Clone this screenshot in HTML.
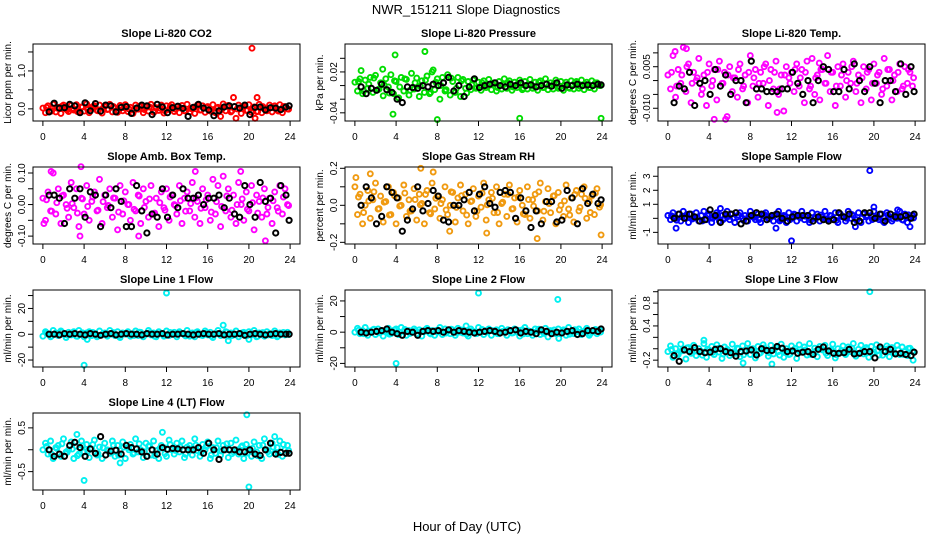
<!DOCTYPE html>
<html><head><meta charset="utf-8"><style>
html,body{margin:0;padding:0;background:#fff;}
svg{display:block;font-family:"Liberation Sans",sans-serif;}
</style></head><body>
<svg id="chart" width="936" height="540" viewBox="0 0 936 540">
<text x="466" y="14" text-anchor="middle" font-size="13">NWR_151211  Slope Diagnostics</text>
<text x="467" y="531" text-anchor="middle" font-size="13">Hour of Day (UTC)</text>
</svg>
<script>
const hoursC=[0,0.25,0.5,0.75,1,1.25,1.5,1.75,2,2.25,2.5,2.75,3,3.25,3.5,3.75,4,4.25,4.5,4.75,5,5.25,5.5,5.75,6,6.25,6.5,6.75,7,7.25,7.5,7.75,8,8.25,8.5,8.75,9,9.25,9.5,9.75,10,10.25,10.5,10.75,11,11.25,11.5,11.75,12,12.25,12.5,12.75,13,13.25,13.5,13.75,14,14.25,14.5,14.75,15,15.25,15.5,15.75,16,16.25,16.5,16.75,17,17.25,17.5,17.75,18,18.25,18.5,18.75,19,19.25,19.5,19.75,20,20.25,20.5,20.75,21,21.25,21.5,21.75,22,22.25,22.5,22.75,23,23.25,23.5,23.75];
const hoursC2=[0.35,0.85,1.35,1.85,2.35,2.85,3.35,3.85,4.35,4.85,5.35,5.85,6.35,6.85,7.35,7.85,8.35,8.85,9.35,9.85,10.35,10.85,11.35,11.85,12.35,12.85,13.35,13.85,14.35,14.85,15.35,15.85,16.35,16.85,17.35,17.85,18.35,18.85,19.35,19.85,20.35,20.85,21.35,21.85,22.35,22.85,23.35,23.85];
const hoursK=[0.6,1.1,1.6,2.1,2.6,3.1,3.6,4.1,4.6,5.1,5.6,6.1,6.6,7.1,7.6,8.1,8.6,9.1,9.6,10.1,10.6,11.1,11.6,12.1,12.6,13.1,13.6,14.1,14.6,15.1,15.6,16.1,16.6,17.1,17.6,18.1,18.6,19.1,19.6,20.1,20.6,21.1,21.6,22.1,22.6,23.1,23.6,23.9];
const xTicks=[0,4,8,12,16,20,24];

const co2C=[0.02,-0.1,0.08,-0.05,0.12,-0.08,0.04,-0.12,0.1,0.0,-0.07,0.09,-0.03,0.11,-0.09,0.05,-0.06,0.13,-0.1,0.03,0.08,-0.04,0.1,-0.11,0.06,-0.02,0.12,-0.08,0.02,-0.09,0.09,-0.05,0.11,-0.07,0.04,-0.12,0.1,-0.01,0.07,-0.1,0.05,-0.06,0.12,-0.09,0.03,-0.04,0.1,-0.11,0.08,-0.02,0.11,-0.07,0.05,-0.1,0.09,-0.05,0.12,-0.08,0.01,-0.12,0.1,-0.03,0.08,-0.09,0.06,-0.06,0.11,-0.1,0.04,-0.2,0.13,-0.05,0.09,-0.08,0.3,-0.25,0.1,-0.12,0.07,-0.04,0.11,-0.09,0.05,-0.07,0.12,-0.1,0.02,-0.05,0.1,-0.08,0.08,-0.03,0.11,-0.1,0.06,0.0];
const co2C2=[0.04,-0.06,0.02,0.07,-0.03,0.01,-0.07,0.05,-0.02,0.06,-0.05,0.02,-0.01,0.06,-0.06,0.03,0.0,-0.04,0.07,-0.02,0.05,-0.07,0.02,-0.05,0.06,-0.01,0.03,-0.06,0.01,0.06,-0.03,0.04,-0.06,0.02,-0.02,0.07,-0.05,0.0,0.05,-0.04,0.02,-0.07,0.06,-0.02,0.03,-0.06,0.06,-0.01];
const co2K=[-0.08,0.15,0.02,0.03,0.12,0.08,-0.1,0.16,-0.05,0.14,-0.06,0.1,0.08,-0.08,0.04,0.06,-0.12,0.02,0.1,0.08,-0.15,0.12,0.05,-0.1,0.03,0.07,0.01,-0.2,0.04,0.12,0.02,-0.03,-0.18,-0.05,0.05,0.08,0.06,0.02,0.1,-0.15,0.04,0.05,-0.03,0.03,0.02,-0.02,0.05,0.08];
const co2OutH=[20.3,20.8,20.6];
const co2OutV=[1.6,0.3,-0.25];

const presC=[0.005,-0.008,0.01,-0.012,0.008,-0.004,0.012,-0.01,0.015,-0.006,0.004,-0.015,0.01,-0.002,0.016,-0.012,0.006,-0.018,0.012,-0.008,0.009,-0.014,0.018,-0.005,0.011,-0.016,0.007,-0.01,0.014,-0.012,0.02,-0.006,0.01,-0.02,0.012,-0.008,0.016,-0.014,0.006,-0.01,0.012,-0.016,0.009,-0.004,0.006,-0.006,0.008,-0.004,0.005,-0.007,0.007,-0.003,0.009,-0.006,0.004,-0.008,0.006,-0.005,0.01,-0.004,0.007,-0.007,0.005,-0.003,0.008,-0.006,0.006,-0.005,0.009,-0.004,0.005,-0.007,0.007,-0.003,0.01,-0.006,0.004,-0.005,0.008,-0.004,0.006,-0.007,0.005,-0.003,0.007,-0.005,0.006,-0.004,0.008,-0.006,0.005,-0.003,0.007,-0.005,0.004,0.0];
const presC2=[0.006,-0.008,0.002,0.011,-0.005,0.001,-0.011,0.007,-0.002,0.01,-0.007,0.004,-0.001,0.008,-0.01,0.005,0.0,-0.006,0.011,-0.004,0.007,-0.011,0.001,-0.003,0.004,0.0,0.002,-0.003,0.001,0.004,-0.002,0.003,-0.004,0.002,-0.001,0.005,-0.003,0.0,0.003,-0.002,0.001,-0.004,0.004,-0.001,0.002,-0.003,0.004,0.0];
const presK=[-0.002,-0.012,-0.004,-0.007,0.002,-0.006,-0.01,-0.02,-0.025,-0.002,-0.003,-0.004,0.0,-0.002,0.002,0.0,0.004,0.012,-0.008,0.0,-0.016,-0.002,0.01,-0.003,0.0,0.002,0.004,0.0,-0.002,0.002,0.0,0.004,0.0,0.001,-0.002,0.0,0.002,-0.001,0.004,-0.004,0.001,0.0,0.002,0.0,0.001,0.0,0.002,0.001];
const presOutH=[3.9,6.8,3.7,8.0,16.0,23.9,0.6,2.7,7.6];
const presOutV=[0.045,0.05,-0.042,-0.05,-0.048,-0.048,0.022,0.024,0.023];

const tempC=[0.002,-0.003,0.009,-0.006,0.004,-0.001,0.012,-0.004,0.006,-0.008,0.003,0.0,0.008,-0.005,0.002,-0.009,0.006,-0.002,0.004,-0.007,0.007,-0.001,0.003,-0.013,0.005,-0.004,0.001,-0.006,0.006,-0.003,0.002,-0.008,0.009,-0.002,0.004,-0.006,0.003,-0.001,0.006,-0.009,0.004,-0.003,0.007,-0.005,0.002,-0.011,0.005,0.001,0.003,-0.004,0.006,-0.002,0.004,-0.008,0.007,-0.003,0.008,-0.005,0.002,-0.007,0.004,-0.001,0.009,-0.004,0.003,-0.009,0.005,-0.002,0.006,-0.006,0.003,-0.001,0.007,-0.004,0.002,-0.008,0.005,-0.003,0.004,-0.007,0.006,-0.001,0.003,-0.005,0.008,-0.002,0.004,-0.007,0.002,-0.004,0.006,-0.003,0.005,-0.001,0.003,-0.002];
const tempC2=[0.003,-0.002,0.002,0.005,-0.001,0.001,-0.003,0.003,0.0,0.004,-0.001,0.002,0.001,0.004,-0.002,0.003,0.001,-0.001,0.005,0.0,0.003,-0.003,0.002,-0.001,0.004,0.001,0.003,-0.002,0.001,0.004,-0.001,0.003,-0.002,0.002,0.0,0.005,-0.001,0.001,0.003,-0.001,0.002,-0.003,0.004,0.0,0.003,-0.002,0.004,0.001];
const tempK=[-0.008,-0.002,-0.003,0.003,-0.009,-0.001,0.0,-0.005,0.004,-0.002,0.002,-0.005,0.0,0.0,-0.008,0.007,-0.003,-0.003,-0.004,-0.004,-0.004,-0.003,-0.003,0.003,-0.001,-0.005,0.0,-0.008,0.0,0.005,0.004,-0.004,-0.004,0.004,-0.003,0.006,0.0,-0.004,0.005,-0.001,-0.008,0.0,0.0,-0.004,0.006,-0.005,0.005,-0.004];
const tempOutH=[0.7,4.5,5.6,10.6,14.7,1.8];
const tempOutV=[0.0105,-0.014,-0.014,-0.0115,0.0063,0.0115];

const ambC=[0.02,-0.05,0.04,-0.02,0.1,-0.03,0.05,-0.06,0.03,0.0,-0.04,0.07,-0.01,0.05,-0.07,0.02,-0.03,0.06,-0.05,0.01,0.04,-0.02,0.08,-0.06,0.03,-0.01,0.05,-0.04,0.02,-0.08,0.06,-0.03,0.04,0.0,-0.05,0.07,-0.02,0.03,-0.06,0.05,0.01,-0.04,0.06,-0.03,0.02,-0.07,0.04,-0.01,0.05,-0.05,0.03,0.0,-0.03,0.06,-0.06,0.02,0.04,-0.02,0.07,-0.04,0.01,-0.06,0.05,-0.01,0.03,-0.05,0.08,-0.03,0.06,-0.07,0.09,-0.02,0.05,-0.04,0.03,-0.06,0.07,0.0,-0.05,0.04,-0.02,0.06,-0.08,0.03,0.01,-0.04,0.05,-0.03,0.02,-0.06,0.04,-0.01,0.06,-0.03,0.05,0.0];
const ambC2=[0.015,-0.021,0.006,0.027,-0.012,0.003,-0.027,0.018,-0.006,0.024,-0.018,0.009,-0.003,0.021,-0.024,0.012,0.0,-0.015,0.027,-0.009,0.018,-0.027,0.006,-0.018,0.024,-0.003,0.012,-0.021,0.003,0.021,-0.012,0.015,-0.024,0.009,-0.006,0.027,-0.018,0.0,0.018,-0.015,0.006,-0.027,0.021,-0.009,0.012,-0.021,0.024,-0.003];
const ambK=[0.03,0.03,0.02,-0.06,0.05,0.02,0.05,-0.04,0.04,0.03,-0.07,0.03,-0.01,0.05,0.01,-0.07,-0.07,0.06,-0.02,-0.09,-0.03,-0.04,0.05,-0.04,0.03,-0.01,0.05,0.02,0.02,0.03,0.0,0.02,0.02,0.03,-0.01,0.02,-0.03,-0.04,0.06,0.0,-0.04,0.07,0.01,0.02,-0.09,0.06,0.03,-0.05];
const ambOutH=[0.8,3.7,3.6,9.3,21.6,19.2,14.8,0.1];
const ambOutV=[0.105,0.12,-0.1,-0.1,-0.115,0.105,0.105,-0.06];

const rhC=[0.1,-0.05,0.06,-0.1,0.0,0.08,-0.07,0.03,0.12,-0.02,0.05,-0.09,0.02,0.1,-0.05,0.07,-0.1,0.04,0.0,0.11,-0.06,0.03,-0.03,0.09,-0.08,0.06,0.01,-0.1,0.08,-0.04,0.12,-0.02,0.05,-0.07,0.03,0.1,-0.05,0.0,0.07,-0.09,0.04,0.11,-0.03,0.06,-0.1,0.02,0.09,-0.06,0.05,-0.01,0.12,-0.08,0.03,0.07,-0.04,0.1,-0.1,0.01,0.06,-0.06,0.11,-0.02,0.04,-0.09,0.08,0.0,-0.05,0.1,-0.07,0.03,0.06,-0.03,0.12,-0.08,0.02,0.09,-0.04,0.05,-0.1,0.07,0.0,-0.06,0.11,-0.02,0.04,-0.09,0.08,-0.03,0.06,0.1,-0.07,0.02,0.05,-0.05,0.09,-0.01];
const rhC2=[0.045,-0.039,0.024,0.073,-0.018,0.017,-0.053,0.052,-0.004,0.066,-0.032,0.031,0.003,0.059,-0.046,0.038,0.01,-0.025,0.073,-0.011,0.052,-0.053,0.024,-0.032,0.066,0.003,0.038,-0.039,0.017,0.059,-0.018,0.045,-0.046,0.031,-0.004,0.073,-0.032,0.01,0.052,-0.025,0.024,-0.053,0.059,-0.011,0.038,-0.039,0.066,0.003];
const rhK=[0.0,0.1,0.04,-0.1,-0.06,0.1,0.07,0.04,-0.14,-0.08,-0.02,0.1,-0.03,0.01,0.08,0.05,-0.08,-0.09,0.0,0.0,0.03,0.07,-0.03,0.06,0.1,0.01,-0.01,0.07,0.08,0.07,-0.07,0.04,-0.03,-0.12,-0.03,-0.1,0.02,0.02,-0.09,-0.08,0.08,0.04,-0.1,0.09,0.01,0.06,0.01,0.03];
const rhOutH=[6.4,1.5,17.7,9.2,23.9,0.1,7.6,12.8];
const rhOutV=[0.2,0.17,-0.18,-0.14,-0.16,0.15,0.18,-0.15];

const sfC=[0.2,-0.1,0.4,0.0,0.3,-0.2,0.5,0.1,-0.3,0.3,0.0,0.4,-0.2,0.2,0.5,-0.1,0.3,-0.3,0.1,0.4,-0.2,0.2,0.0,0.5,-0.1,0.3,-0.3,0.1,0.4,0.0,0.2,-0.2,0.5,0.1,-0.1,0.3,-0.3,0.2,0.4,0.0,0.1,-0.2,0.3,0.5,-0.1,0.2,-0.3,0.4,0.0,0.3,-0.2,0.1,0.5,-0.1,0.2,-0.3,0.4,0.0,0.3,-0.2,0.1,0.5,-0.1,0.2,0.0,0.4,-0.3,0.3,0.1,-0.2,0.5,0.0,0.2,-0.1,0.4,-0.3,0.3,0.1,-0.2,0.2,0.5,0.0,-0.1,0.3,-0.3,0.4,0.1,-0.2,0.2,0.0,0.5,-0.1,0.3,-0.3,0.1,0.2];
const sfC2=[0.18,-0.13,0.1,0.28,-0.05,0.08,-0.18,0.2,0.0,0.25,-0.1,0.13,0.03,0.23,-0.15,0.15,0.05,-0.08,0.28,-0.03,0.2,-0.18,0.1,-0.1,0.25,0.03,0.15,-0.13,0.08,0.23,-0.05,0.18,-0.15,0.13,0.0,0.28,-0.1,0.05,0.2,-0.08,0.1,-0.18,0.23,-0.03,0.15,-0.13,0.25,0.03];
const sfK=[0.0,0.3,0.0,0.3,0.1,-0.2,-0.1,0.6,0.2,-0.3,0.3,0.3,0.4,-0.4,-0.2,0.2,0.4,0.3,-0.1,0.2,0.3,0.0,-0.2,0.1,0.2,0.2,0.2,-0.2,0.1,-0.1,-0.2,-0.1,0.4,0.1,0.3,-0.3,-0.2,0.4,0.4,0.0,0.3,-0.2,0.3,0.1,0.1,0.2,0.0,0.3];
const sfOutH=[19.6,20.0,12.0,0.8,10.5,18.2,22.3,23.5,5.1];
const sfOutV=[3.4,0.8,-1.6,-0.7,-0.7,-0.6,0.6,-0.6,0.7];

const l1C=[-1.5,2,0,-2,3,1,-1,2.5,0,-2.5,1.5,-0.5,2,-1.5,3,0,-2,1,2,-1,0.5,-2,2.5,-0.5,1,-1.5,3,0,-1,2,-2.5,1,0,2,-1.5,0.5,2.5,-1,1.5,-2,0,3,-0.5,1,-2,2,0.5,-1.5,2.5,-1,0,1.5,-2,2,0.5,-0.5,3,-1.5,1,-2,2,0,-1,2.5,-0.5,1.5,-2.5,0.5,3,-1,0,2,-1.5,1,-0.5,2.5,-2,0,1.5,-1,2,-0.5,3,-2,1,0,-1.5,2,0.5,-1,2.5,-2,1,0,-0.5,1.5];
const l1C2=[0.9,-1.3,0.4,1.6,-0.7,0.2,-1.6,1.1,-0.4,1.4,-1.1,0.5,-0.2,1.3,-1.4,0.7,0,-0.9,1.6,-0.5,1.1,-1.6,0.4,-1.1,1.4,-0.2,0.7,-1.3,0.2,1.3,-0.7,0.9,-1.4,0.5,-0.4,1.6,-1.1,0,1.1,-0.9,0.4,-1.6,1.3,-0.5,0.7,-1.3,1.4,-0.2];
const l1K=[0,0,-0.5,0.5,0,0.5,0,-0.5,0.5,0,-0.8,0,0.5,-0.5,0,0.5,0,0,-0.5,0.5,0,0,0.5,-0.5,0,0,0.5,0,-0.5,0,0.5,0,0,0.5,-0.5,0,0,0.5,-0.8,0,0.5,0,-0.5,0,0.5,0,0,0];
const l1OutH=[12.0,4.0,17.5,18.0,4.3,20.0];
const l1OutV=[32,-24,7,-5,-4,-4];

const l2C=[0,2.5,-1,1,3,-2,0.5,1.5,-1.5,2,0,-2.5,1,2.5,-1,0,2,-1.5,3,0.5,-2,1,0,2,-1,1.5,-2.5,0.5,2.5,-0.5,1,-2,0,3,-1.5,2,0.5,-1,1.5,-2,2.5,0,-0.5,1,-2.5,2,0.5,-1,3,0,-1.5,1,2,-2,0.5,1.5,-1,2.5,0,-2,1,-0.5,2,0,-2.5,1.5,3,-1,0.5,-2,2,1,-1.5,0,2.5,-3,1,0,-1,2,-0.5,1.5,-2,3,0,-1,1,2,-1.5,0.5,2.5,-2,0,1,-1,1.5];
const l2C2=[1.2,-1.0,0.7,1.9,-0.4,0.5,-1.3,1.4,-0.1,1.7,-0.8,0.8,0.1,1.6,-1.1,1.0,0.3,-0.6,1.9,-0.2,1.4,-1.3,0.7,-0.8,1.7,0.1,1.0,-1.0,0.5,1.6,-0.4,1.2,-1.1,0.8,-0.1,1.9,-0.8,0.3,1.4,-0.6,0.7,-1.3,1.6,-0.2,1.0,-1.0,1.7,0.1];
const l2K=[0,-0.5,0,0.5,1,2,0,-1,-2,0.5,0,-2,0.5,1,0.5,1,0,1.5,0,1,0.5,0,-0.5,0,0.5,1,0.5,-0.5,0,1,1.5,-0.5,0.5,0,-1,1.5,0.5,-1,0,-0.5,0.5,1,-1.5,-1,1,1,0.5,2];
const l2OutH=[12.0,19.7,4.0,10.8,19.8];
const l2OutV=[25,21,-20,4,-4];

const l3C=[-0.05,0.05,-0.15,0.0,-0.1,0.08,-0.03,-0.18,0.02,-0.08,0.06,-0.12,0.0,-0.05,0.09,-0.15,-0.02,0.04,-0.1,0.07,-0.06,-0.17,0.03,-0.01,-0.12,0.08,-0.08,0.01,-0.14,0.05,-0.04,0.09,-0.1,0.0,-0.16,0.04,-0.07,0.07,-0.02,-0.13,0.06,-0.09,0.02,-0.05,0.08,-0.15,0.0,-0.1,0.05,-0.03,-0.17,0.07,-0.06,0.03,-0.11,0.09,-0.08,0.01,-0.14,0.04,-0.02,0.06,-0.12,-0.04,0.08,-0.16,0.0,-0.07,0.05,-0.1,0.03,-0.05,0.09,-0.13,-0.01,0.06,-0.09,0.02,-0.15,0.04,-0.06,0.07,-0.11,0.0,-0.03,0.05,-0.14,0.02,-0.08,0.06,-0.1,0.03,-0.05,-0.12,0.01,-0.04];
const l3C2=[-0.015,-0.099,-0.036,0.013,-0.078,-0.043,-0.113,-0.008,-0.064,0.006,-0.092,-0.029,-0.057,-0.001,-0.106,-0.022,-0.05,-0.085,0.013,-0.071,-0.008,-0.113,-0.036,-0.092,0.006,-0.057,-0.022,-0.099,-0.043,-0.001,-0.078,-0.015,-0.106,-0.029,-0.064,0.013,-0.092,-0.05,-0.008,-0.085,-0.036,-0.113,-0.001,-0.071,-0.022,-0.099,0.006,-0.057];
const l3K=[-0.12,-0.22,-0.02,-0.05,0.02,-0.05,-0.07,-0.06,-0.01,0.0,-0.05,-0.07,-0.13,-0.05,-0.04,-0.02,-0.11,0.0,-0.03,-0.03,0.04,0.01,-0.05,-0.04,-0.08,-0.06,-0.05,-0.1,-0.01,0.03,-0.04,-0.08,-0.08,-0.07,-0.01,-0.09,-0.08,-0.05,-0.05,-0.16,0.03,-0.05,-0.01,-0.09,-0.08,-0.1,-0.12,-0.06];
const l3OutH=[19.6,3.5,10.1,7.3,23.8];
const l3OutV=[1.0,0.15,-0.27,-0.25,-0.2];

const l4C=[0.0,0.15,-0.1,0.2,-0.2,0.05,0.1,-0.15,0.25,-0.05,0.0,0.18,-0.2,0.08,-0.1,0.2,-0.05,0.12,-0.18,0.02,0.22,-0.12,0.06,-0.2,0.15,0.0,-0.08,0.2,-0.15,0.1,-0.02,0.18,-0.2,0.05,0.12,-0.1,0.25,-0.05,0.0,-0.18,0.15,0.08,-0.12,0.2,-0.02,-0.2,0.1,0.05,-0.15,0.22,0.0,-0.1,0.15,-0.05,0.2,-0.18,0.06,0.1,-0.12,0.25,-0.02,-0.15,0.12,0.0,0.18,-0.2,0.05,-0.08,0.2,-0.12,0.1,0.0,-0.18,0.15,-0.05,0.22,-0.1,0.06,-0.2,0.12,0.02,-0.15,0.18,-0.05,0.1,-0.2,0.25,0.0,-0.1,0.15,-0.08,0.05,0.2,-0.15,0.0,0.1];
const l4C2=[0.075,-0.105,0.03,0.135,-0.06,0.015,-0.135,0.09,-0.03,0.12,-0.09,0.045,-0.015,0.105,-0.12,0.06,0,-0.075,0.135,-0.045,0.09,-0.135,0.03,-0.09,0.12,-0.015,0.06,-0.105,0.015,0.105,-0.06,0.075,-0.12,0.045,-0.03,0.135,-0.09,0,0.09,-0.075,0.03,-0.135,0.105,-0.045,0.06,-0.105,0.12,-0.015];
const l4K=[0.0,-0.15,-0.1,-0.15,0.1,0.17,0.05,-0.15,0.02,-0.08,0.3,-0.12,-0.03,-0.01,-0.1,0.1,0.05,0.02,-0.05,-0.15,0.0,-0.1,0.05,0.01,0.03,0.02,0.0,0.0,0.0,0.05,-0.08,0.15,0.0,-0.22,0.0,0.0,0.0,-0.05,-0.05,0.0,-0.1,-0.13,0.0,0.15,-0.1,-0.06,-0.08,-0.08];
const l4OutH=[19.8,4.0,20.0,11.6,3.3,7.5,22.5];
const l4OutV=[0.8,-0.7,-0.85,0.4,0.35,-0.3,0.3];

const panels=[
 {name:'co2',title:'Slope Li-820 CO2',ylab:'Licor ppm per min.',col:'#ff0000',L:33,T:44,ymin:-0.32,ymax:1.71,ticks:[0,0.5,1,1.5],labels:['0.0','','1.0',''],c:co2C,c2:co2C2,k:co2K,oh:co2OutH,ov:co2OutV},
 {name:'pressure',title:'Slope Li-820 Pressure',ylab:'kPa per min.',col:'#00dd00',L:345,T:44,ymin:-0.052,ymax:0.061,ticks:[-0.04,-0.02,0,0.02,0.04],labels:['-0.04','','','0.02',''],c:presC,c2:presC2,k:presK,oh:presOutH,ov:presOutV},
 {name:'temp',title:'Slope Li-820 Temp.',ylab:'degrees C per min.',col:'#ff00ff',L:658,T:44,ymin:-0.0146,ymax:0.0132,ticks:[-0.01,-0.005,0,0.005,0.01],labels:['-0.010','','','0.005',''],c:tempC,c2:tempC2,k:tempK,oh:tempOutH,ov:tempOutV},
 {name:'amb-box-temp',title:'Slope Amb. Box Temp.',ylab:'degrees C per min.',col:'#ff00ff',L:33,T:167,ymin:-0.125,ymax:0.119,ticks:[-0.1,-0.05,0,0.05,0.1],labels:['-0.10','','0.00','','0.10'],c:ambC,c2:ambC2,k:ambK,oh:ambOutH,ov:ambOutV},
 {name:'gas-stream-rh',title:'Slope Gas Stream RH',ylab:'percent per min.',col:'#f09a10',L:345,T:167,ymin:-0.209,ymax:0.207,ticks:[-0.2,-0.1,0,0.1,0.2],labels:['-0.2','','0.0','','0.2'],c:rhC,c2:rhC2,k:rhK,oh:rhOutH,ov:rhOutV},
 {name:'sample-flow',title:'Slope Sample Flow',ylab:'ml/min per min.',col:'#0000ff',L:658,T:167,ymin:-1.83,ymax:3.66,ticks:[-1,0,1,2,3],labels:['-1','','1','2','3'],c:sfC,c2:sfC2,k:sfK,oh:sfOutH,ov:sfOutV},
 {name:'line1-flow',title:'Slope Line 1 Flow',ylab:'ml/min per min.',col:'#00f0f0',L:33,T:290,ymin:-25.4,ymax:34.3,ticks:[-20,-10,0,10,20,30],labels:['-20','','0','','20',''],c:l1C,c2:l1C2,k:l1K,oh:l1OutH,ov:l1OutV},
 {name:'line2-flow',title:'Slope Line 2 Flow',ylab:'ml/min per min.',col:'#00f0f0',L:345,T:290,ymin:-22.3,ymax:27,ticks:[-20,-10,0,10,20],labels:['-20','','0','','20'],c:l2C,c2:l2C2,k:l2K,oh:l2OutH,ov:l2OutV},
 {name:'line3-flow',title:'Slope Line 3 Flow',ylab:'ml/min per min.',col:'#00f0f0',L:658,T:290,ymin:-0.32,ymax:1.03,ticks:[-0.2,0,0.2,0.4,0.6,0.8,1.0],labels:['-0.2','','','0.4','','0.8',''],c:l3C,c2:l3C2,k:l3K,oh:l3OutH,ov:l3OutV},
 {name:'line4-flow',title:'Slope Line 4 (LT) Flow',ylab:'ml/min per min.',col:'#00f0f0',L:33,T:413,ymin:-0.92,ymax:0.84,ticks:[-0.5,0,0.5],labels:['-0.5','','0.5'],c:l4C,c2:l4C2,k:l4K,oh:l4OutH,ov:l4OutV}
];
const W=267,H=77,NS='http://www.w3.org/2000/svg';
const svg=document.getElementById('chart');
function mk(tag,attrs,parent){const e=document.createElementNS(NS,tag);for(const a in attrs)e.setAttribute(a,attrs[a]);parent.appendChild(e);return e;}
panels.forEach(p=>{
 const g=mk('g',{},svg);
 
 
 const xs=h=>p.L+W*(h+0.96)/25.92;
 const ys=v=>p.T+H*(p.ymax-v)/(p.ymax-p.ymin);
 const B=p.T+H;
 const t=mk('text',{x:p.L+W/2,y:p.T-7,'text-anchor':'middle','font-size':'11','font-weight':'bold'},g);t.textContent=p.title;
 
 
 const yl=mk('text',{x:0,y:0,'text-anchor':'middle','font-size':'10',transform:`translate(${p.L-22},${p.T+H/2}) rotate(-90)`},g);yl.textContent=p.ylab;
 
 
 const pts=mk('g',{fill:'none'},g);
 
 
 const drawC=(h,v)=>{if(h===undefined||v===undefined)return;const c=mk('circle',{cx:xs(h).toFixed(1),cy:ys(v).toFixed(1),r:2.5,stroke:p.col,'stroke-width':1.9},pts);
  
  };
 p.c.forEach((v,i)=>drawC(hoursC[i],v));
 p.c2.forEach((v,i)=>drawC(hoursC2[i],v));
 p.oh.forEach((h,i)=>drawC(h,p.ov[i]));
 const kg=mk('g',{fill:'none'},g);
 
 
 p.k.forEach((v,i)=>{if(hoursK[i]===undefined)return;const c=mk('circle',{cx:xs(hoursK[i]).toFixed(1),cy:ys(v).toFixed(1),r:2.6,stroke:'#000','stroke-width':2},kg);
  
  });
 const box=mk('rect',{x:p.L,y:p.T,width:W,height:H,fill:'none',stroke:'#000','stroke-width':1},g);
 
 
 xTicks.forEach(h=>{const x=xs(h);mk('line',{x1:x,x2:x,y1:B,y2:B+5,stroke:'#000'},g);
  const tl=mk('text',{x:x,y:B+19,'text-anchor':'middle','font-size':'10'},g);tl.textContent=h;
  
  });
 p.ticks.forEach((v,i)=>{const y=ys(v);mk('line',{x1:p.L-5,x2:p.L,y1:y,y2:y,stroke:'#000'},g);
  if(p.labels[i]){const tl=mk('text',{x:0,y:0,'text-anchor':'middle','font-size':'10',transform:`translate(${p.L-8},${y}) rotate(-90)`},g);tl.textContent=p.labels[i];
  
  }});
});
</script>
</body></html>
